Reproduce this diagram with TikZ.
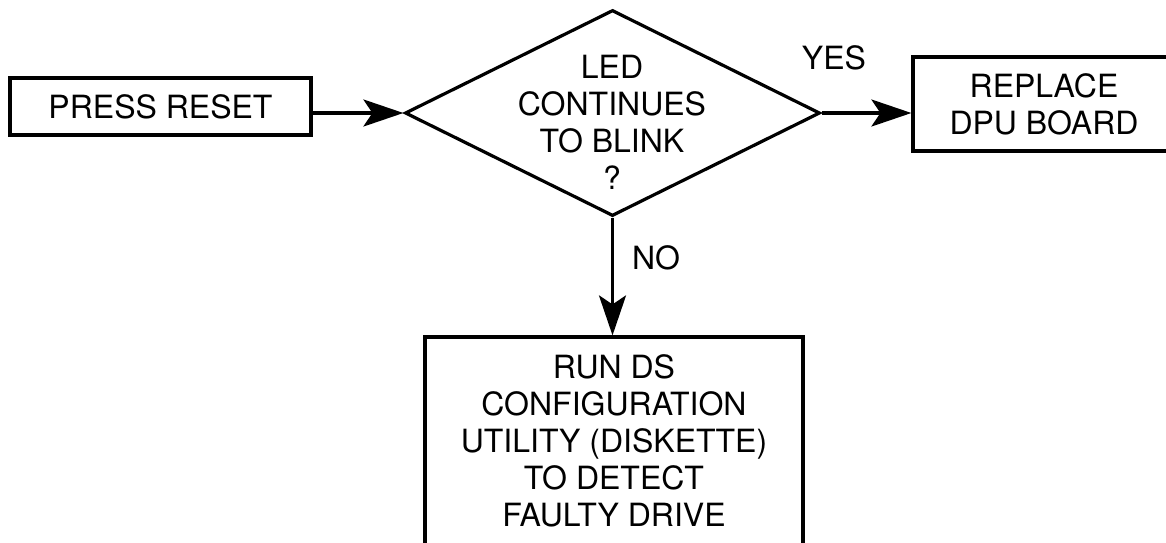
\documentclass[tikz,border=0pt]{standalone}
\usepackage{fontspec}
\setmainfont{TeX Gyre Heros}
\usetikzlibrary{shapes.geometric,arrows.meta}
\begin{document}
\begin{tikzpicture}[x=1pt,y=-1pt,
  lbl/.style={font=\fontsize{32}{37}\selectfont, align=center, inner sep=0pt},
  boxnode/.style={draw, line width=3.2pt, rectangle, lbl},
  conn/.style={line width=3.2pt, -{Stealth[length=40pt,width=27pt,inset=9pt]}},
]
\useasboundingbox (0,0) rectangle (1166,542);
\clip (0,0) rectangle (1166,542);
\node[boxnode, minimum width=301pt, minimum height=57pt] (reset) at (160.5,106.5) {PRESS RESET};
\node[draw, diamond, line width=3.2pt, minimum width=415pt, minimum height=206pt, inner sep=0pt] (dia) at (612.5,113) {};
\node[lbl] (q) at (612,122) {LED\\CONTINUES\\TO BLINK\\?};
\node[boxnode, minimum width=262pt, minimum height=94pt] (rep) at (1044,104) {REPLACE\\DPU BOARD};
\node[boxnode, minimum width=378pt, minimum height=208pt] (run) at (614,441) {RUN DS\\CONFIGURATION\\UTILITY (DISKETTE)\\TO DETECT\\FAULTY DRIVE};
\node[lbl] (yes) at (834,58) {YES};
\node[lbl] (no) at (656,258) {NO};
\draw[conn] (dia.west -| reset.east) -- (dia.west);
\draw[conn] (dia.east) -- (dia.east -| rep.west);
\draw[conn] (dia.south) -- (dia.south |- run.north);
\end{tikzpicture}
\end{document}
